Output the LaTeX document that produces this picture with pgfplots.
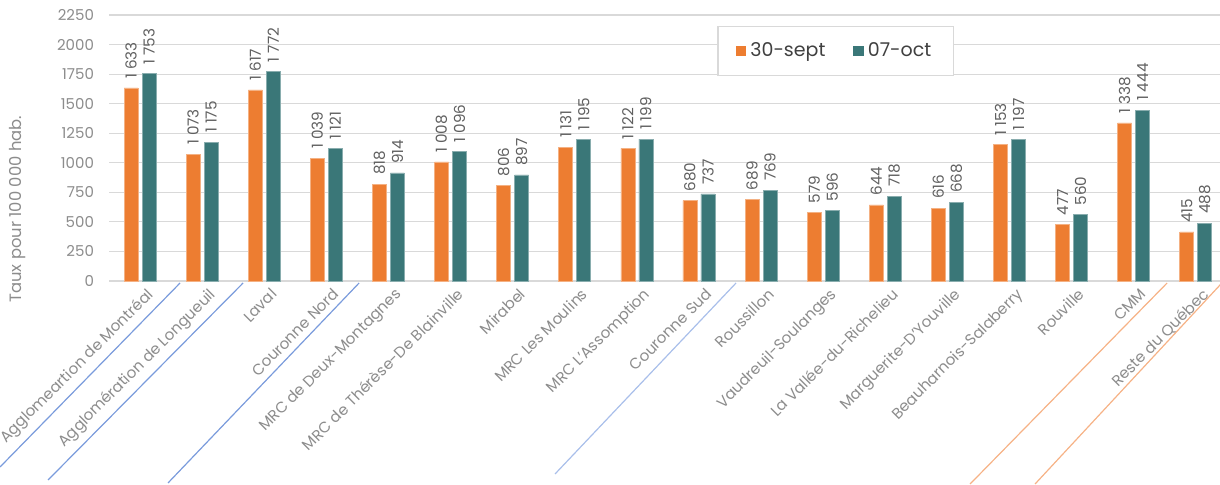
\documentclass[border=0pt]{standalone}
\usepackage{fontspec}
\setmainfont{Poppins}
\usepackage{pgfplots}
\pgfplotsset{compat=1.18}

\definecolor{barorange}{HTML}{ED7D31}
\definecolor{barteal}{HTML}{3A7778}
\definecolor{gridgray}{HTML}{D9D9D9}
\definecolor{ticktext}{HTML}{8C8C8C}
\definecolor{labeltext}{HTML}{606060}
\definecolor{legtext}{HTML}{404040}
\definecolor{sepblue}{HTML}{7A9BDC}
\definecolor{sepblue2}{HTML}{A9BFEA}
\definecolor{seporange}{HTML}{F6B286}

\begin{document}
\begin{tikzpicture}
\begin{axis}[
    at={(54.5pt,102pt)}, anchor=south west,
    scale only axis,
    width=555.5pt, height=133pt,
    ybar=2pt, bar width=7pt,
    xmin=-0.5, xmax=17.39,
    ymin=0, ymax=2250,
    ytick={0,250,...,2250},
    xtick={0,...,17},
    xticklabels={Agglomeartion de Montréal, Agglomération de Longueuil, Laval, Couronne Nord,
        MRC de Deux-Montagnes, MRC de Thérèse-De Blainville, Mirabel, MRC Les Moulins,
        MRC L'Assomption, Couronne Sud, Roussillon, Vaudreuil-Soulanges,
        La Vallée-du-Richelieu, Marguerite-D'Youville, Beauharnois-Salaberry,
        Rouville, CMM, Reste du Québec},
    ymajorgrids, grid style={gridgray, line width=0.6pt},
    axis line style={draw=none},
    major tick length=0pt,
    /pgf/number format/assume math mode=true,
    /pgf/number format/1000 sep={},
    yticklabel style={font=\fontsize{7.5}{9}\selectfont, text=ticktext, xshift=-4pt},
    xticklabel style={font=\fontsize{7.6}{9}\selectfont, text=ticktext, rotate=45,
        anchor=north east, inner sep=1pt, yshift=-3pt, xshift=1pt},
    ylabel={Taux pour 100 000 hab.},
    every axis y label/.style={at={(rel axis cs:-0.0819,0.27)}, rotate=90, anchor=center,
        font=\fontsize{8.2}{10}\selectfont, text=ticktext},
    nodes near coords,
    nodes near coords style={/pgf/number format/1000 sep={\ }},
    every node near coord/.append style={rotate=90, anchor=west, inner sep=4.5pt,
        font=\fontsize{7.6}{9}\selectfont, text=labeltext},
    legend columns=2,
    legend style={at={(0.654,0.865)}, anchor=center, draw=gridgray, fill=white,
        line width=0.6pt, inner xsep=9pt, inner ysep=6pt,
        font=\fontsize{9.5}{11}\selectfont, text=legtext,
        /tikz/every even column/.append style={column sep=12pt}},
    legend image code/.code={\draw[#1,draw=none] (0pt,-2.6pt) rectangle (5.2pt,2.6pt);},
    clip=false,
]
\addplot[fill=barorange, draw=barorange!60!white, line width=0.3pt] coordinates {
    (0,1633) (1,1073) (2,1617) (3,1039) (4,818) (5,1008) (6,806) (7,1131) (8,1122)
    (9,680) (10,689) (11,579) (12,644) (13,616) (14,1153) (15,477) (16,1338) (17,415)
};
\addlegendentry{30-sept}
\addplot[fill=barteal, draw=barteal!60!white, line width=0.3pt] coordinates {
    (0,1753) (1,1175) (2,1772) (3,1121) (4,914) (5,1096) (6,897) (7,1195) (8,1199)
    (9,737) (10,769) (11,596) (12,718) (13,668) (14,1197) (15,560) (16,1444) (17,488)
};
\addlegendentry{07-oct}

% separator strokes under the category names
\draw[sepblue, line width=0.6pt] (axis cs:0.644,-17) -- (axis cs:-2.254,-1573);
\draw[sepblue, line width=0.6pt] (axis cs:1.659,-17) -- (axis cs:-1.481,-1683);
\draw[sepblue, line width=0.6pt] (axis cs:3.527,-17) -- (axis cs:0.451,-1708);
\draw[sepblue2, line width=0.6pt] (axis cs:9.597,-17) -- (axis cs:6.683,-1632);
\draw[seporange, line width=0.6pt] (axis cs:16.538,-17) -- (axis cs:13.366,-1717);
\draw[seporange, line width=0.6pt] (axis cs:17.42,-17) -- (axis cs:14.412,-1717);
\end{axis}
\pgfresetboundingbox
\useasboundingbox (0,0) rectangle (610pt,242.5pt);
\end{tikzpicture}
\end{document}
